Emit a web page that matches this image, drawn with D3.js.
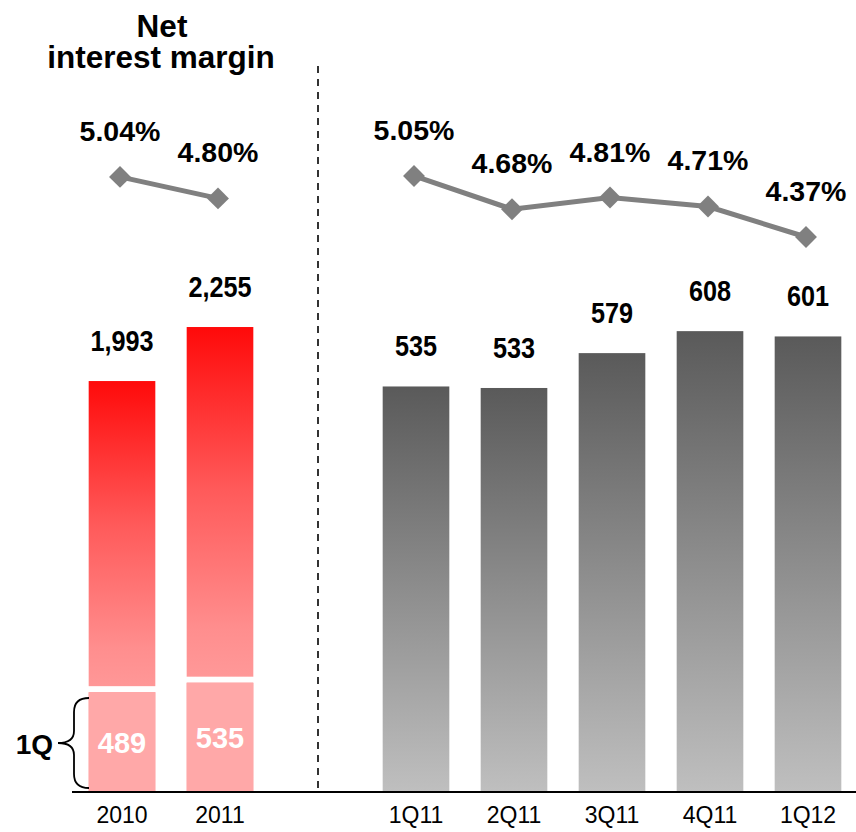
<!doctype html>
<html lang="en">
<head>
<meta charset="utf-8">
<title>Net interest margin</title>
<script src="https://cdn.jsdelivr.net/npm/d3@7"></script>
<style>
  body { margin: 0; background: #fff; }
  svg text { font-family: "Liberation Sans", Arial, sans-serif; }
</style>
</head>
<body>
<script>
// annual totals with first-quarter part
var years = ["2010", "2011"];
var yearValues = [1993, 2255];
var yearQ1 = [489, 535];
var yearNim = [5.04, 4.80];

// quarterly
var quarters = ["1Q11", "2Q11", "3Q11", "4Q11", "1Q12"];
var quarterValues = [535, 533, 579, 608, 601];
var quarterNim = [5.05, 4.68, 4.81, 4.71, 4.37];

var W = 856, H = 832;
var baseY = 792;

var svg = d3.select("body").append("svg")
    .attr("width", W)
    .attr("height", H);

var defs = svg.append("defs");
var redGrad = defs.append("linearGradient")
    .attr("id", "redGrad").attr("x1", 0).attr("y1", 0).attr("x2", 0).attr("y2", 1);
[[0, "#ff0a0a"], [0.35, "#ff5a5a"], [0.65, "#ff8e8e"], [0.8, "#ff9d9d"], [1, "#ffa8a8"]]
    .forEach(s => redGrad.append("stop").attr("offset", s[0]).attr("stop-color", s[1]));
var greyGrad = defs.append("linearGradient")
    .attr("id", "greyGrad").attr("x1", 0).attr("y1", 0).attr("x2", 0).attr("y2", 1);
[[0, "#5a5a5a"], [0.5, "#8d8d8d"], [1, "#bfbfbf"]]
    .forEach(s => greyGrad.append("stop").attr("offset", s[0]).attr("stop-color", s[1]));

// one band scale, with an empty slot for the divider
var slots = years.concat(["gap"], quarters);
var x = d3.scaleBand()
    .domain(slots)
    .range([73, 857])
    .paddingInner(0.32)
    .paddingOuter(0.16);
var cx = d => x(d) + x.bandwidth() / 2;

var yYear = d3.scaleLinear().domain([0, 2400]).range([baseY, baseY - 2400 * 0.2062]);
var yQuarter = d3.scaleLinear().domain([0, 650]).range([baseY, baseY - 650 * 0.758]);
var yNim = d3.scaleLinear().domain([4.0, 5.5]).range([270.2, 135.6]);

// title
var title = svg.append("text")
    .attr("text-anchor", "middle")
    .attr("font-size", "31.5px")
    .attr("font-weight", "bold");
title.append("tspan").attr("x", 162).attr("y", 37).text("Net");
title.append("tspan").attr("x", 161).attr("y", 68).text("interest margin");

// divider
svg.append("line")
    .attr("x1", cx("gap")).attr("x2", cx("gap"))
    .attr("y1", 66).attr("y2", baseY)
    .attr("stroke", "#333")
    .attr("stroke-width", 2)
    .attr("stroke-dasharray", "7,6");

// annual bars
var yearData = years.map((d, i) => ({cat: d, v: yearValues[i], q1: yearQ1[i], nim: yearNim[i]}));
svg.selectAll(".ybar")
    .data(yearData)
    .enter().append("rect")
    .attr("class", "ybar")
    .attr("x", d => x(d.cat))
    .attr("y", d => yYear(d.v))
    .attr("width", x.bandwidth())
    .attr("height", d => baseY - yYear(d.v))
    .attr("fill", "url(#redGrad)");

// white gap above the 1Q part
svg.selectAll(".qgap")
    .data(yearData)
    .enter().append("rect")
    .attr("class", "qgap")
    .attr("x", d => x(d.cat) - 1)
    .attr("y", d => yYear(d.q1) - 5)
    .attr("width", x.bandwidth() + 2)
    .attr("height", 6)
    .attr("fill", "#fff");

svg.selectAll(".q1part")
    .data(yearData)
    .enter().append("rect")
    .attr("class", "q1part")
    .attr("x", d => x(d.cat))
    .attr("y", d => yYear(d.q1) + 1)
    .attr("width", x.bandwidth())
    .attr("height", d => baseY - yYear(d.q1) - 1)
    .attr("fill", "#ffa8a8");

svg.selectAll(".q1label")
    .data(yearData)
    .enter().append("text")
    .attr("class", "q1label")
    .attr("x", d => cx(d.cat))
    .attr("y", d => (yYear(d.q1) + baseY) / 2 + 11)
    .attr("text-anchor", "middle")
    .attr("font-size", "29px")
    .attr("font-weight", "bold")
    .attr("fill", "#fff")
    .text(d => d.q1);

// quarterly bars
var quarterData = quarters.map((d, i) => ({cat: d, v: quarterValues[i], nim: quarterNim[i]}));
svg.selectAll(".qbar")
    .data(quarterData)
    .enter().append("rect")
    .attr("class", "qbar")
    .attr("x", d => x(d.cat))
    .attr("y", d => yQuarter(d.v))
    .attr("width", x.bandwidth())
    .attr("height", d => baseY - yQuarter(d.v))
    .attr("fill", "url(#greyGrad)");

// value labels above bars (slightly condensed)
var valLabels = yearData.map(d => ({cat: d.cat, y: yYear(d.v), t: d3.format(",")(d.v)}))
    .concat(quarterData.map(d => ({cat: d.cat, y: yQuarter(d.v), t: d3.format(",")(d.v)})));
svg.selectAll(".vlabel")
    .data(valLabels)
    .enter().append("text")
    .attr("class", "vlabel")
    .attr("transform", d => "translate(" + cx(d.cat) + "," + (d.y - 30) + ") scale(0.87,1)")
    .attr("text-anchor", "middle")
    .attr("font-size", "29px")
    .attr("font-weight", "bold")
    .attr("fill", "#000")
    .text(d => d.t);

// NIM lines
var line = d3.line().x(d => cx(d.cat) - 2).y(d => yNim(d.nim));
[yearData, quarterData].forEach(function(ds) {
    svg.append("path")
        .datum(ds)
        .attr("d", line)
        .attr("fill", "none")
        .attr("stroke", "#808080")
        .attr("stroke-width", 5);
});
var allNim = yearData.concat(quarterData);
svg.selectAll(".marker")
    .data(allNim)
    .enter().append("path")
    .attr("class", "marker")
    .attr("d", d3.symbol(d3.symbolSquare, 240))
    .attr("transform", d => "translate(" + (cx(d.cat) - 2) + "," + yNim(d.nim) + ") rotate(45)")
    .attr("fill", "#808080");
svg.selectAll(".nlabel")
    .data(allNim)
    .enter().append("text")
    .attr("class", "nlabel")
    .attr("x", d => cx(d.cat) - 2)
    .attr("y", d => yNim(d.nim) - 36)
    .attr("text-anchor", "middle")
    .attr("font-size", "28.5px")
    .attr("font-weight", "bold")
    .text(d => d.nim.toFixed(2) + "%");

// axis
var axis = svg.append("g")
    .attr("transform", "translate(0," + baseY + ")")
    .call(d3.axisBottom(x).tickSize(0).tickPadding(15).tickFormat(d => d === "gap" ? "" : d));
axis.select(".domain")
    .attr("d", "M72,0H857")
    .attr("stroke", "#000")
    .attr("stroke-width", 2);
axis.selectAll("text")
    .attr("font-size", "23px")
    .attr("font-family", "'Liberation Sans', Arial, sans-serif")
    .attr("fill", "#000");

// 1Q brace
svg.append("path")
    .attr("d", "M89,698 C79,698 74,703 74,712 L74,731 C74,739 69,743 58,743 C69,743 74,747 74,755 L74,774 C74,783 79,788 89,788")
    .attr("fill", "none")
    .attr("stroke", "#000")
    .attr("stroke-width", 1.8);
svg.append("text")
    .attr("x", 53)
    .attr("y", 754)
    .attr("text-anchor", "end")
    .attr("font-size", "28px")
    .attr("font-weight", "bold")
    .text("1Q");
</script>
</body>
</html>
